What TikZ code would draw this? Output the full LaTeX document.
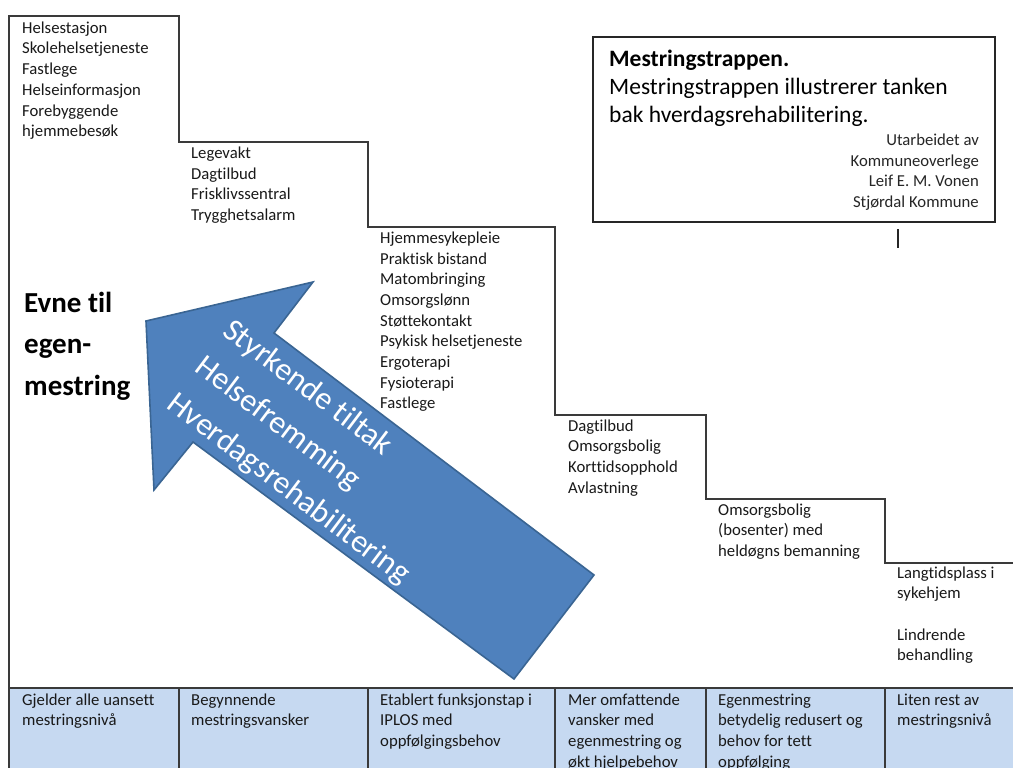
\documentclass[tikz,border=0pt]{standalone}
\usepackage{fontspec}
\setmainfont{Carlito}[Ligatures={NoCommon}]
\definecolor{arrowblue}{HTML}{4F81BD}
\definecolor{arrowedge}{HTML}{3A6593}
\definecolor{rowblue}{HTML}{C6D9F1}
\definecolor{lineclr}{HTML}{3A3A3A}
\begin{document}
\begin{tikzpicture}[x=1pt,y=-1pt,
  stairline/.style={draw=lineclr, line width=1.4pt},
  steptext/.style={anchor=base west, align=flush left, text width=200pt, inner sep=0pt,
    font=\fontsize{16.7}{20.7}\selectfont, text=black!90},
  arrowshape/.style={fill=arrowblue, draw=arrowedge, line width=1.6pt, line join=miter},
  arrowtext/.style={rotate=-37, anchor=base west, align=flush left, text width=420pt, inner sep=0pt,
    font=\fontsize{32}{46}\selectfont, text=white},
  titlebox/.style={draw=black!85, line width=1.5pt},
]
\useasboundingbox (0,0) rectangle (1013,768);
\fill[white] (0,0) rectangle (1013,768);

% bottom row
\fill[rowblue] (9,688) rectangle (1013,768);
\draw[stairline] (9,688) -- (1013,688);
\foreach \xx in {179,368,555,706,885} {\draw[stairline] (\xx,688) -- (\xx,768);}

% staircase
\draw[stairline] (9,768) -- (9,16) -- (179,16) -- (179,142) -- (368,142) -- (368,227)
  -- (555,227) -- (555,415) -- (706,415) -- (706,499) -- (885,499) -- (885,563) -- (1013,563);

% big arrow
\coordinate (tip) at (146,321);
\coordinate (hu) at (313,282);
\coordinate (iu) at (274,333);
\coordinate (eu) at (594,575);
\coordinate (el) at (514,679);
\coordinate (il) at (193,442);
\coordinate (hl) at (154,490);
\filldraw[arrowshape] (tip) -- (hu) -- (iu) -- (eu) -- (el) -- (il) -- (hl) -- cycle;
\node[arrowtext] (arrowlbl) at (221,334) {Styrkende tiltak\\Helsefremming\\Hverdagsrehabilitering};

% step texts
\node[steptext] (s1) at (22,33.3) {Helsestasjon\\Skolehelsetjeneste\\Fastlege\\Helseinformasjon\\Forebyggende\\hjemmebesøk};
\node[steptext] (s2) at (191,158.3) {Legevakt\\Dagtilbud\\Frisklivssentral\\Trygghetsalarm};
\node[steptext] (s3) at (380,243.3) {Hjemmesykepleie\\Praktisk bistand\\Matombringing\\Omsorgslønn\\Støttekontakt\\Psykisk helsetjeneste\\Ergoterapi\\Fysioterapi\\Fastlege};
\node[steptext] (s4) at (568,431) {Dagtilbud\\Omsorgsbolig\\Korttidsopphold\\Avlastning};
\node[steptext] (s5) at (718,515) {Omsorgsbolig\\(bosenter) med\\heldøgns bemanning};
\node[steptext] (s6) at (897,578) {Langtidsplass i\\sykehjem\\[20.7pt]Lindrende\\behandling};

% bottom row texts
\node[steptext] (b1) at (22,705) {Gjelder alle uansett\\mestringsnivå};
\node[steptext] (b2) at (191,705) {Begynnende\\mestringsvansker};
\node[steptext] (b3) at (380,705) {Etablert funksjonstap i\\IPLOS med\\oppfølgingsbehov};
\node[steptext] (b4) at (568,705) {Mer omfattende\\vansker med\\egenmestring og\\økt hjelpebehov};
\node[steptext] (b5) at (718,705) {Egenmestring\\betydelig redusert og\\behov for tett\\oppfølging};
\node[steptext] (b6) at (897,705) {Liten rest av\\mestringsnivå};

% left label
\node[anchor=base west, align=flush left, text width=160pt, inner sep=0pt,
  font=\bfseries\fontsize{29}{41.5}\selectfont] (evne) at (24,312) {Evne til\\egen-\\mestring};

% title box
\draw[titlebox] (593,37) rectangle (995,222);
\node[anchor=base west, align=flush left, text width=390pt, inner sep=0pt,
  font=\fontsize{23.5}{28}\selectfont] (title) at (609,66.7)
  {\textbf{Mestringstrappen.}\\Mestringstrappen illustrerer tanken\\bak hverdagsrehabilitering.};
\node[anchor=base east, align=flush right, text width=200pt, inner sep=0pt,
  font=\fontsize{16.7}{20.5}\selectfont, text=black!85] (credit) at (979,146)
  {Utarbeidet av\\Kommuneoverlege\\Leif E. M. Vonen\\Stjørdal Kommune};

% cursor mark
\draw[line width=1.8pt, black!85] (898,229) -- (898,248);
\end{tikzpicture}
\end{document}
